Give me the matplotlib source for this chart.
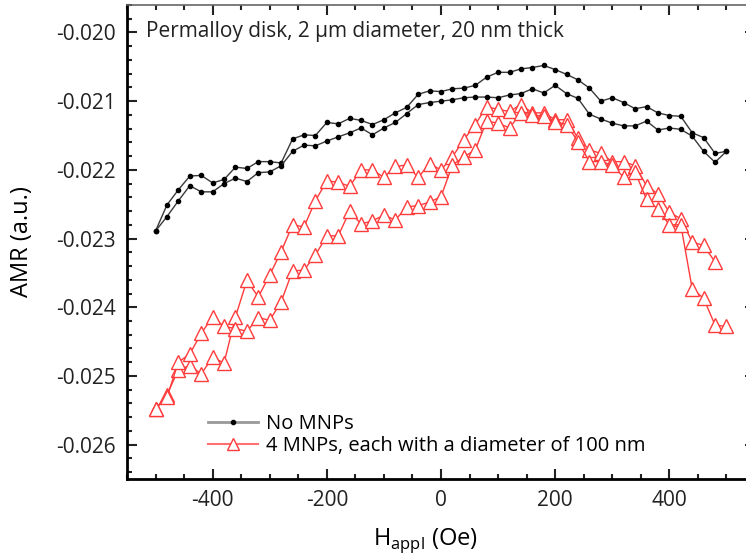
import matplotlib
matplotlib.use("Agg")
import matplotlib.pyplot as plt
import numpy as np
from matplotlib.lines import Line2D
from matplotlib.ticker import MultipleLocator, FormatStrFormatter

plt.rcParams['font.family'] = ['Open Sans', 'DejaVu Sans']
plt.rcParams['mathtext.fontset'] = 'custom'
plt.rcParams['mathtext.rm'] = 'Open Sans'
plt.rcParams['axes.unicode_minus'] = False

# field values (Oe), one point every 20 Oe
h_full = np.arange(-500, 501, 20)

# no MNPs, two branches of the loop
black_up = [-0.02289, -0.02251, -0.02229, -0.02209, -0.02208, -0.02219, -0.02214, -0.02196, -0.02198, -0.02188,
            -0.02188, -0.02190, -0.02155, -0.02149, -0.02150, -0.02131, -0.02133, -0.02125, -0.02128, -0.02134,
            -0.02127, -0.02117, -0.02109, -0.02090, -0.02085, -0.02086, -0.02082, -0.02081, -0.02077, -0.02065,
            -0.02058, -0.02058, -0.02053, -0.02051, -0.02048, -0.02054, -0.02061, -0.02069, -0.02081, -0.02100,
            -0.02095, -0.02102, -0.02111, -0.02108, -0.02117, -0.02121, -0.02122, -0.02146, -0.02153, -0.02176,
            -0.02173]
black_dn = [-0.02289, -0.02268, -0.02245, -0.02223, -0.02232, -0.02232, -0.02220, -0.02212, -0.02217, -0.02204,
            -0.02203, -0.02194, -0.02173, -0.02164, -0.02165, -0.02158, -0.02152, -0.02146, -0.02139, -0.02149,
            -0.02139, -0.02131, -0.02118, -0.02105, -0.02102, -0.02100, -0.02098, -0.02095, -0.02094, -0.02094,
            -0.02095, -0.02091, -0.02089, -0.02082, -0.02088, -0.02077, -0.02089, -0.02096, -0.02119, -0.02126,
            -0.02132, -0.02136, -0.02136, -0.02129, -0.02142, -0.02139, -0.02141, -0.02151, -0.02173, -0.02189,
            -0.02173]

# 4 MNPs, two branches (first one stops at 480 Oe)
red_q = [-0.02548, -0.02527, -0.02491, -0.02485, -0.02497, -0.02473, -0.02481, -0.02414, -0.02361, -0.02385,
         -0.02353, -0.02319, -0.02280, -0.02283, -0.02245, -0.02216, -0.02218, -0.02224, -0.02200, -0.02200,
         -0.02211, -0.02195, -0.02193, -0.02211, -0.02191, -0.02200, -0.02181, -0.02156, -0.02134, -0.02108,
         -0.02112, -0.02115, -0.02105, -0.02117, -0.02117, -0.02127, -0.02127, -0.02154, -0.02171, -0.02176,
         -0.02188, -0.02188, -0.02194, -0.02223, -0.02235, -0.02262, -0.02271, -0.02305, -0.02310, -0.02334]
red_p = [-0.02548, -0.02531, -0.02480, -0.02468, -0.02438, -0.02414, -0.02428, -0.02431, -0.02435, -0.02415,
         -0.02419, -0.02392, -0.02347, -0.02346, -0.02324, -0.02296, -0.02296, -0.02260, -0.02279, -0.02274,
         -0.02266, -0.02273, -0.02254, -0.02252, -0.02247, -0.02239, -0.02193, -0.02181, -0.02171, -0.02129,
         -0.02132, -0.02139, -0.02117, -0.02120, -0.02122, -0.02130, -0.02134, -0.02159, -0.02188, -0.02188,
         -0.02193, -0.02211, -0.02203, -0.02243, -0.02257, -0.02280, -0.02280, -0.02373, -0.02387, -0.02426,
         -0.02428]

fig = plt.figure(figsize=(7.46, 5.58), dpi=100)
ax = fig.add_axes([127/746, 1-479/558, (755-127)/746, (479-5)/558])

red = '#ff3b3b'
for ys in (black_up, black_dn):
    ax.plot(h_full[:len(ys)], ys, color='#3a3a3a', lw=1.0, marker='o', ms=3,
            mfc='black', mec='black', zorder=3)
for ys in (red_q, red_p):
    ax.plot(h_full[:len(ys)], ys, color=red, lw=1.0, marker='^', ms=9.5,
            mfc='white', mec=red, mew=1.0, zorder=2)

ax.set_xlim(-550, 550)
ax.set_ylim(-0.0265, -0.0196)
ax.xaxis.set_major_locator(MultipleLocator(200))
ax.xaxis.set_minor_locator(MultipleLocator(50))
ax.yaxis.set_major_locator(MultipleLocator(0.001))
ax.yaxis.set_minor_locator(MultipleLocator(0.0002))
ax.yaxis.set_major_formatter(FormatStrFormatter('%.3f'))
ax.tick_params(which='both', direction='in', top=True, right=True, width=1.5,
               labelsize=15, colors='#222222')
ax.tick_params(which='major', length=7, pad=8)
ax.tick_params(which='minor', length=3.5)
for s in ('left', 'bottom'):
    ax.spines[s].set_linewidth(2)
ax.spines['top'].set_linewidth(1.2)
ax.spines['top'].set_color('#666666')

ax.set_xlabel('H$_{\\rm appl}$ (Oe)', fontsize=17)
ax.xaxis.set_label_coords(0.475, -0.1)
ax.set_ylabel('AMR (a.u.)', fontsize=17)
ax.yaxis.set_label_coords(-0.148, 0.5)

ax.text(0.03, 0.945, 'Permalloy disk, 2 \u03bcm diameter, 20 nm thick',
        transform=ax.transAxes, fontsize=15, va='center', ha='left', color='#222222')

handles = [Line2D([], [], color='#999999', lw=2, marker='o', ms=3, mfc='black', mec='black'),
           Line2D([], [], color='#ff7070', lw=1.5, marker='^', ms=8, mfc='white', mec=red)]
ax.legend(handles, ['No MNPs', '4 MNPs, each with a diameter of 100 nm'],
          loc='lower left', bbox_to_anchor=(0.1, 0.01), frameon=False, fontsize=14.5,
          handlelength=2.5, handletextpad=0.4, labelspacing=0.1)

fig.savefig('out.png', dpi=100)
